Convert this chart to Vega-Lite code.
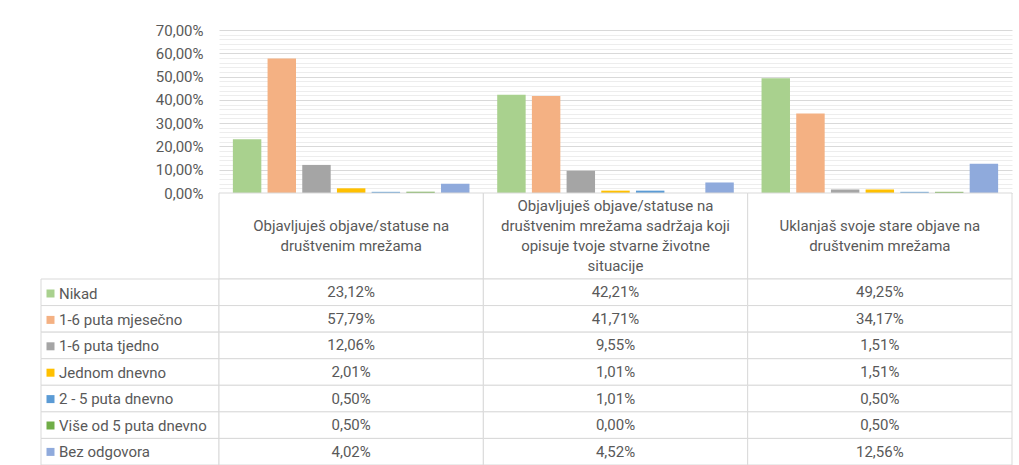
{
  "$schema": "https://vega.github.io/schema/vega-lite/v6.json",
  "padding": {"left": 40, "top": 23, "right": 5, "bottom": 0},
  "background": "white",
  "config": {
    "locale": {"number": {"decimal": ",", "thousands": ".", "grouping": [3], "currency": ["", " €"]}},
    "view": {"stroke": null},
    "font": "Roboto"
  },
  "datasets": {
    "answers": [
      {"q": "Objavljuješ objave/statuse na društvenim mrežama", "s": "Nikad", "v": 0.2312},
      {"q": "Objavljuješ objave/statuse na društvenim mrežama", "s": "1-6 puta mjesečno", "v": 0.5779},
      {"q": "Objavljuješ objave/statuse na društvenim mrežama", "s": "1-6 puta tjedno", "v": 0.1206},
      {"q": "Objavljuješ objave/statuse na društvenim mrežama", "s": "Jednom dnevno", "v": 0.0201},
      {"q": "Objavljuješ objave/statuse na društvenim mrežama", "s": "2 - 5 puta dnevno", "v": 0.0050},
      {"q": "Objavljuješ objave/statuse na društvenim mrežama", "s": "Više od 5 puta dnevno", "v": 0.0050},
      {"q": "Objavljuješ objave/statuse na društvenim mrežama", "s": "Bez odgovora", "v": 0.0402},
      {"q": "Objavljuješ objave/statuse na društvenim mrežama sadržaja koji opisuje tvoje stvarne životne situacije", "s": "Nikad", "v": 0.4221},
      {"q": "Objavljuješ objave/statuse na društvenim mrežama sadržaja koji opisuje tvoje stvarne životne situacije", "s": "1-6 puta mjesečno", "v": 0.4171},
      {"q": "Objavljuješ objave/statuse na društvenim mrežama sadržaja koji opisuje tvoje stvarne životne situacije", "s": "1-6 puta tjedno", "v": 0.0955},
      {"q": "Objavljuješ objave/statuse na društvenim mrežama sadržaja koji opisuje tvoje stvarne životne situacije", "s": "Jednom dnevno", "v": 0.0101},
      {"q": "Objavljuješ objave/statuse na društvenim mrežama sadržaja koji opisuje tvoje stvarne životne situacije", "s": "2 - 5 puta dnevno", "v": 0.0101},
      {"q": "Objavljuješ objave/statuse na društvenim mrežama sadržaja koji opisuje tvoje stvarne životne situacije", "s": "Više od 5 puta dnevno", "v": 0.0},
      {"q": "Objavljuješ objave/statuse na društvenim mrežama sadržaja koji opisuje tvoje stvarne životne situacije", "s": "Bez odgovora", "v": 0.0452},
      {"q": "Uklanjaš svoje stare objave na društvenim mrežama", "s": "Nikad", "v": 0.4925},
      {"q": "Uklanjaš svoje stare objave na društvenim mrežama", "s": "1-6 puta mjesečno", "v": 0.3417},
      {"q": "Uklanjaš svoje stare objave na društvenim mrežama", "s": "1-6 puta tjedno", "v": 0.0151},
      {"q": "Uklanjaš svoje stare objave na društvenim mrežama", "s": "Jednom dnevno", "v": 0.0151},
      {"q": "Uklanjaš svoje stare objave na društvenim mrežama", "s": "2 - 5 puta dnevno", "v": 0.0050},
      {"q": "Uklanjaš svoje stare objave na društvenim mrežama", "s": "Više od 5 puta dnevno", "v": 0.0050},
      {"q": "Uklanjaš svoje stare objave na društvenim mrežama", "s": "Bez odgovora", "v": 0.1256}
    ],
    "questions": [
      {"q": "Objavljuješ objave/statuse na društvenim mrežama", "label": "Objavljuješ objave/statuse na\ndruštvenim mrežama"},
      {"q": "Objavljuješ objave/statuse na društvenim mrežama sadržaja koji opisuje tvoje stvarne životne situacije", "label": "Objavljuješ objave/statuse na\ndruštvenim mrežama sadržaja koji\nopisuje tvoje stvarne životne\nsituacije"},
      {"q": "Uklanjaš svoje stare objave na društvenim mrežama", "label": "Uklanjaš svoje stare objave na\ndruštvenim mrežama"}
    ],
    "series": [
      {"s": "Nikad"}, {"s": "1-6 puta mjesečno"}, {"s": "1-6 puta tjedno"}, {"s": "Jednom dnevno"},
      {"s": "2 - 5 puta dnevno"}, {"s": "Više od 5 puta dnevno"}, {"s": "Bez odgovora"}
    ]
  },
  "columns": 2,
  "spacing": 0,
  "bounds": "flush",
  "align": "each",
  "concat": [
    {
      "width": 178, "height": 163,
      "data": {"values": [{}]},
      "mark": {"type": "text", "text": ""},
      "encoding": {}
    },
    {
      "width": 793, "height": 163,
      "data": {"name": "answers"},
      "mark": {"type": "bar"},
      "encoding": {
        "x": {"field": "q", "type": "nominal", "sort": ["Objavljuješ objave/statuse na društvenim mrežama", "Objavljuješ objave/statuse na društvenim mrežama sadržaja koji opisuje tvoje stvarne životne situacije", "Uklanjaš svoje stare objave na društvenim mrežama"], "scale": {"paddingInner": 0, "paddingOuter": 0}, "axis": null},
        "xOffset": {"field": "s", "type": "nominal", "sort": ["Nikad", "1-6 puta mjesečno", "1-6 puta tjedno", "Jednom dnevno", "2 - 5 puta dnevno", "Više od 5 puta dnevno", "Bez odgovora"], "scale": {"paddingInner": 0.18, "paddingOuter": 0.4}},
        "y": {
          "field": "v", "type": "quantitative",
          "scale": {"domain": [0, 0.7], "nice": false, "zero": true},
          "axis": {
            "values": [0, 0.02, 0.04, 0.06, 0.08, 0.1, 0.12, 0.14, 0.16, 0.18, 0.2, 0.22, 0.24, 0.26, 0.28, 0.3, 0.32, 0.34, 0.36, 0.38, 0.4, 0.42, 0.44, 0.46, 0.48, 0.5, 0.52, 0.54, 0.56, 0.58, 0.6, 0.62, 0.64, 0.66, 0.68, 0.7],
            "format": ".2%",
            "labelExpr": "round(datum.value*100) % 10 == 0 ? datum.label : ''",
            "title": null, "domain": false, "ticks": false, "tickSize": 0,
            "labelPadding": 16, "labelFont": "Roboto", "labelFontSize": 15, "labelColor": "#595959",
            "labelOverlap": false, "labelFlush": false,
            "grid": true,
            "gridColor": {"condition": {"test": "round(datum.value*100) % 10 == 0", "value": "#d9d9d9"}, "value": "#ededed"},
            "gridWidth": 1
          }
        },
        "color": {
          "field": "s", "type": "nominal",
          "scale": {"domain": ["Nikad", "1-6 puta mjesečno", "1-6 puta tjedno", "Jednom dnevno", "2 - 5 puta dnevno", "Više od 5 puta dnevno", "Bez odgovora"], "range": ["#a9d18e", "#f4b183", "#a5a5a5", "#ffc000", "#5b9bd5", "#70ad47", "#8faadc"]},
          "legend": {
            "orient": "none", "legendX": 2, "legendY": 256, "title": null, "padding": 0,
            "symbolType": "square", "symbolSize": 64, "symbolStrokeWidth": 0, "symbolOpacity": 1,
            "labelFont": "Roboto", "labelFontSize": 15, "labelColor": "#595959", "labelOffset": 1, "labelLimit": 300,
            "rowPadding": 10.4
          }
        }
      }
    },
    {
      "width": 178, "height": 86,
      "data": {"values": [{}]},
      "mark": {"type": "text", "text": ""},
      "encoding": {}
    },
    {
      "width": 793, "height": 86,
      "data": {"name": "questions"},
      "encoding": {
        "x": {"field": "q", "type": "nominal", "sort": ["Objavljuješ objave/statuse na društvenim mrežama", "Objavljuješ objave/statuse na društvenim mrežama sadržaja koji opisuje tvoje stvarne životne situacije", "Uklanjaš svoje stare objave na društvenim mrežama"], "scale": {"paddingInner": 0, "paddingOuter": 0}, "axis": null}
      },
      "layer": [
        {"mark": {"type": "rect", "fill": "white", "stroke": "#d9d9d9", "strokeWidth": 1}},
        {"transform": [{"filter": "length(split(datum.label, '\\n')) == 2"}],
         "mark": {"type": "text", "lineBreak": "\n", "lineHeight": 20, "fontSize": 15, "font": "Roboto", "color": "#595959", "dy": -10},
         "encoding": {"text": {"field": "label", "type": "nominal"}}},
        {"transform": [{"filter": "length(split(datum.label, '\\n')) == 4"}],
         "mark": {"type": "text", "lineBreak": "\n", "lineHeight": 20, "fontSize": 15, "font": "Roboto", "color": "#595959", "dy": -30},
         "encoding": {"text": {"field": "label", "type": "nominal"}}}
      ]
    },
    {
      "width": 178, "height": 186,
      "data": {"name": "series"},
      "mark": {"type": "rect", "fill": "white", "stroke": "#d9d9d9", "strokeWidth": 1},
      "encoding": {
        "y": {"field": "s", "type": "nominal", "sort": ["Nikad", "1-6 puta mjesečno", "1-6 puta tjedno", "Jednom dnevno", "2 - 5 puta dnevno", "Više od 5 puta dnevno", "Bez odgovora"], "scale": {"paddingInner": 0, "paddingOuter": 0}, "axis": null}
      }
    },
    {
      "width": 793, "height": 186,
      "data": {"name": "answers"},
      "encoding": {
        "x": {"field": "q", "type": "nominal", "sort": ["Objavljuješ objave/statuse na društvenim mrežama", "Objavljuješ objave/statuse na društvenim mrežama sadržaja koji opisuje tvoje stvarne životne situacije", "Uklanjaš svoje stare objave na društvenim mrežama"], "scale": {"paddingInner": 0, "paddingOuter": 0}, "axis": null},
        "y": {"field": "s", "type": "nominal", "sort": ["Nikad", "1-6 puta mjesečno", "1-6 puta tjedno", "Jednom dnevno", "2 - 5 puta dnevno", "Više od 5 puta dnevno", "Bez odgovora"], "scale": {"paddingInner": 0, "paddingOuter": 0}, "axis": null}
      },
      "layer": [
        {"mark": {"type": "rect", "fill": "white", "stroke": "#d9d9d9", "strokeWidth": 1}},
        {"mark": {"type": "text", "fontSize": 15, "font": "Roboto", "color": "#595959"},
         "encoding": {"text": {"field": "v", "type": "quantitative", "format": ".2%"}}}
      ]
    }
  ]
}
